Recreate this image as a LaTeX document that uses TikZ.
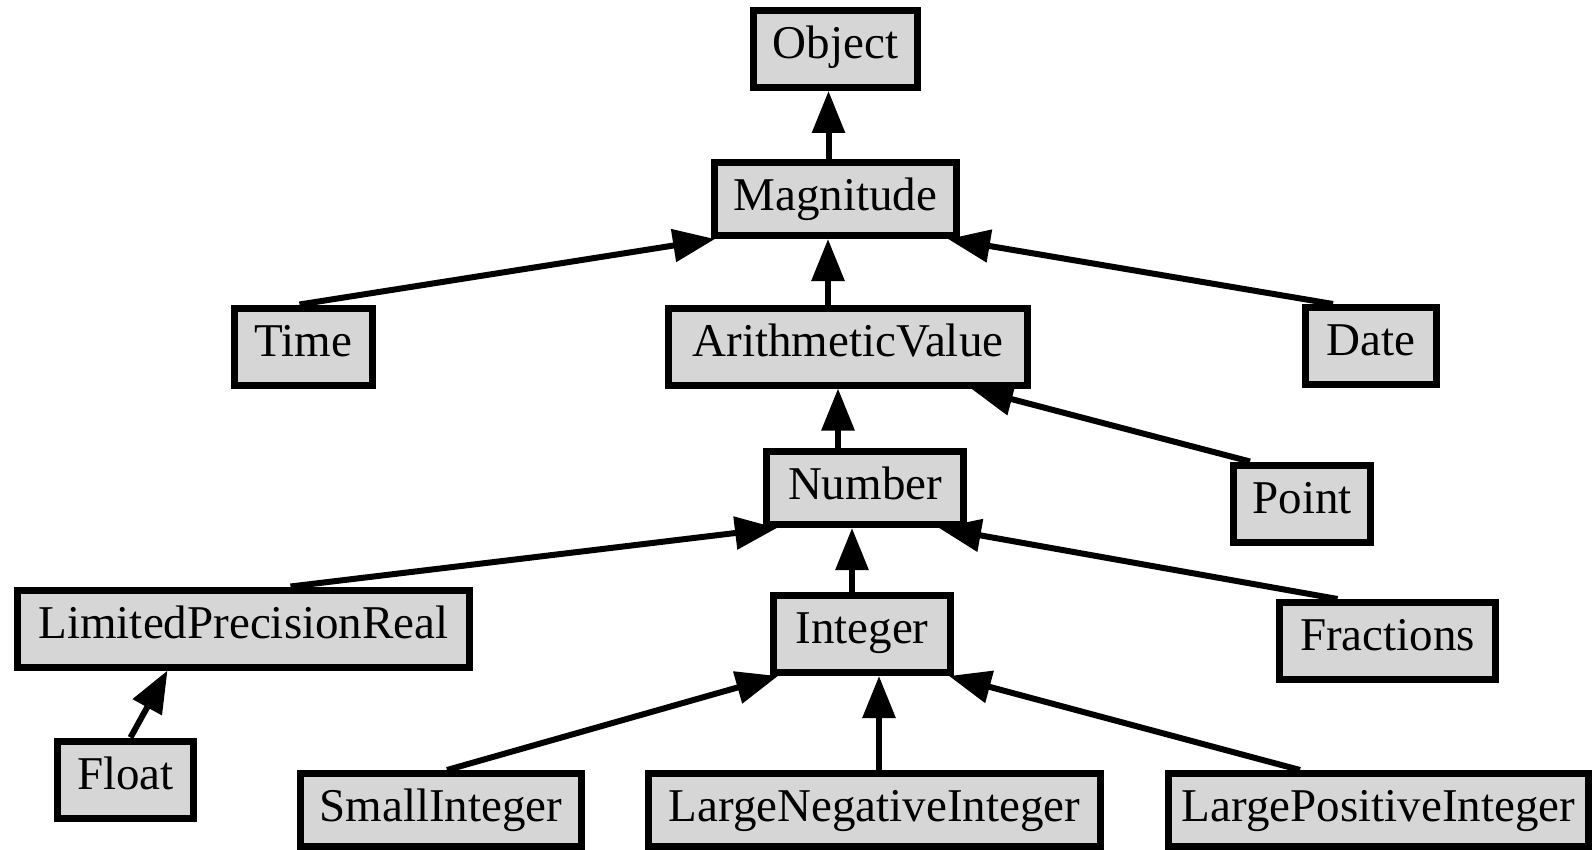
\documentclass[tikz,border=0pt]{standalone}
\usepackage{fontspec}
\setmainfont{Liberation Serif}
\usetikzlibrary{arrows.meta}
\definecolor{boxgray}{RGB}{214,214,214}
\begin{document}
\begin{tikzpicture}[x=1pt,y=-1pt,
  cls/.style={draw=black, line width=7pt, fill=boxgray, rectangle, inner sep=0pt,
    text height=48pt, text depth=29pt, font=\fontsize{47pt}{56pt}\selectfont},
  clsshort/.style={cls, text depth=25pt},
  edge/.style={line width=6pt, -{Triangle[length=42pt,width=32pt]}}]
\useasboundingbox[fill=white] (0,0) rectangle (1594,850);
% nodes
\node[cls, minimum width=164pt] (Object) at (835.5,49) {Object};
\node[clsshort, minimum width=242pt] (Magnitude) at (835.5,199) {Magnitude};
\node[cls, minimum width=138pt] (Time) at (303.5,346.5) {Time};
\node[cls, minimum width=359pt] (AV) at (848,346.5) {ArithmeticValue};
\node[cls, minimum width=131pt] (Date) at (1371,346) {Date};
\node[clsshort, minimum width=197pt] (Number) at (865,488) {Number};
\node[cls, minimum width=137pt] (Point) at (1302,503.5) {Point};
\node[cls, minimum width=452pt] (LPR) at (243.5,628.5) {LimitedPrecisionReal};
\node[cls, minimum width=177pt] (Integer) at (862,634) {Integer};
\node[cls, minimum width=216pt] (Fractions) at (1387.5,641) {Fractions};
\node[cls, minimum width=136pt] (Float) at (125.5,779.5) {Float};
\node[clsshort, minimum width=281pt] (SmallInteger) at (441,810) {SmallInteger};
\node[clsshort, minimum width=452pt] (LargeNeg) at (874.5,810) {LargeNegativeInteger};
\node[clsshort, minimum width=420pt] (LargePos) at (1378.5,810) {LargePositiveInteger};
% edges (child -> parent)
\draw[edge] ([xshift=-7pt]Magnitude.north) -- ([xshift=-7pt]Object.south);
\draw[edge] ([xshift=-4pt]Time.north) -- ([xshift=4pt]Magnitude.south west);
\draw[edge] ([xshift=-20pt]AV.north) -- ([xshift=-7.5pt]Magnitude.south);
\draw[edge] ([xshift=-38pt]Date.north) -- ([xshift=-12pt]Magnitude.south east);
\draw[edge] ([xshift=-27pt]Number.north) -- ([xshift=-10pt]AV.south);
\draw[edge] ([xshift=-52pt]Point.north) -- ([xshift=-60pt]AV.south east);
\draw[edge] ([xshift=47pt]LPR.north) -- ([xshift=14pt]Number.south west);
\draw[edge] ([xshift=-10pt]Integer.north) -- ([xshift=-13pt]Number.south);
\draw[edge] ([xshift=-50pt]Fractions.north) -- ([xshift=-28pt]Number.south east);
\draw[edge] ([xshift=5pt]Float.north) -- ([xshift=-76pt]LPR.south);
\draw[edge] ([xshift=6pt]SmallInteger.north) -- ([xshift=8pt]Integer.south west);
\draw[edge] ([xshift=4.5pt]LargeNeg.north) -- ([xshift=17pt]Integer.south);
\draw[edge] ([xshift=-78.5pt]LargePos.north) -- ([xshift=-5pt]Integer.south east);
\end{tikzpicture}
\end{document}
